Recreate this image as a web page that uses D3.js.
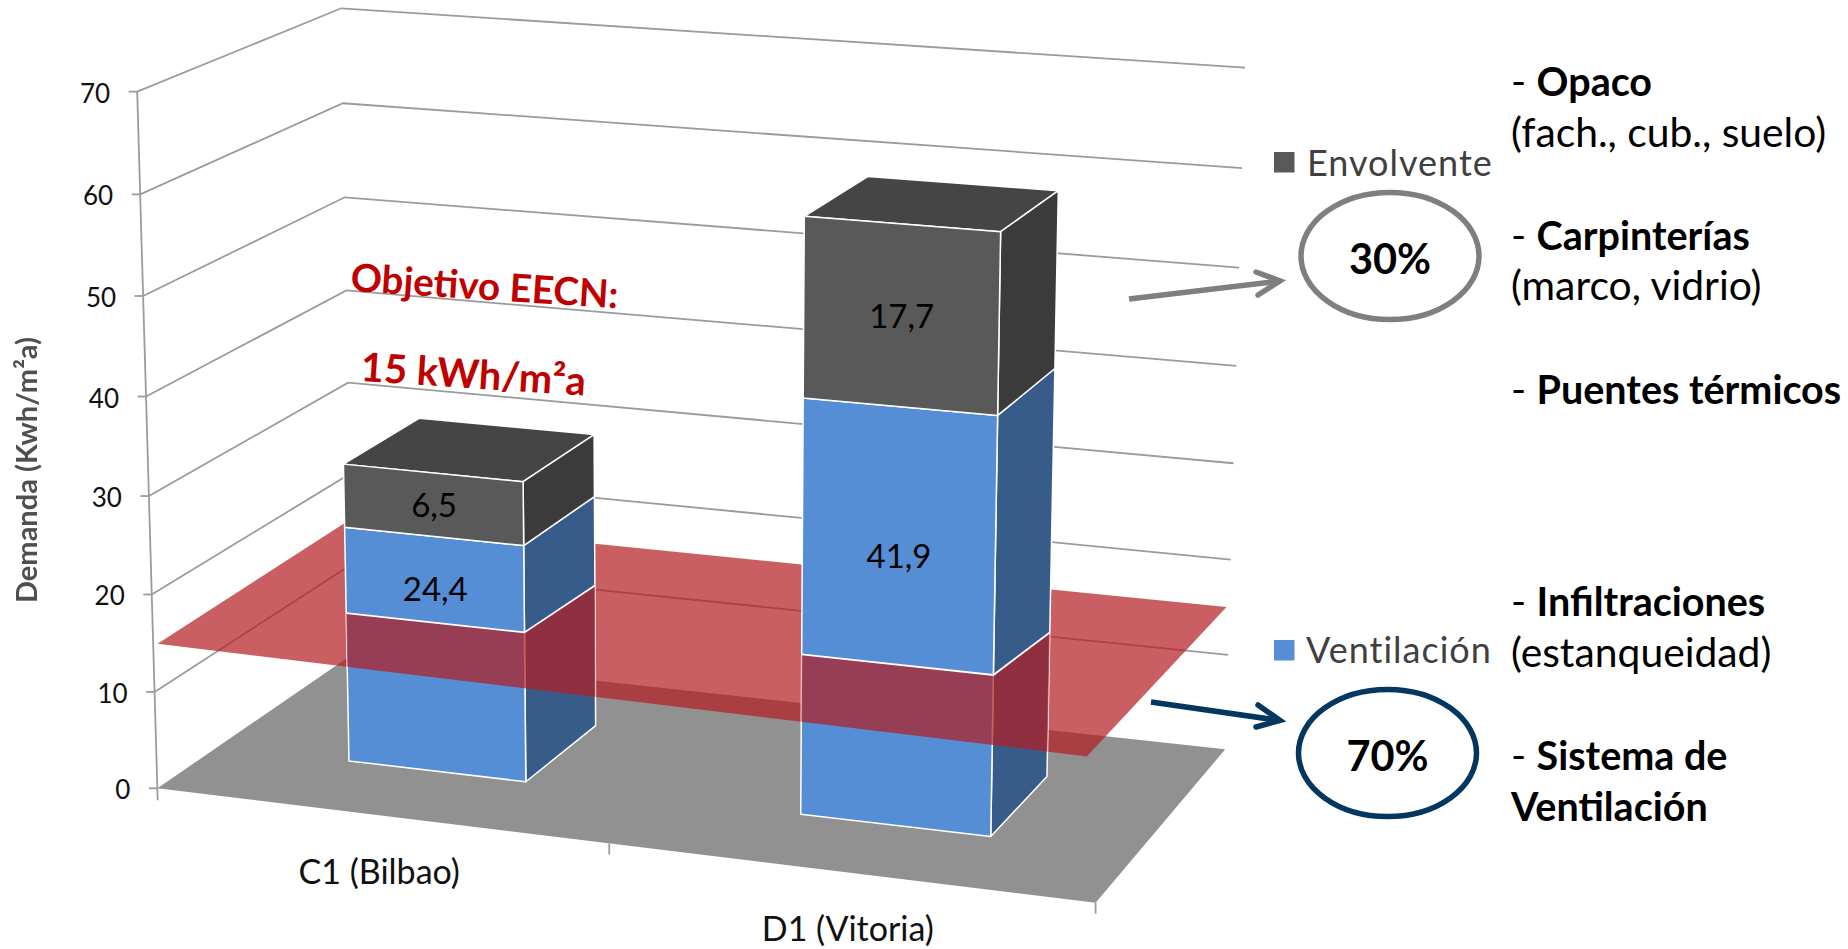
<!DOCTYPE html>
<html lang="es">
<head>
<meta charset="utf-8">
<title>Demanda</title>
<script src="https://cdn.jsdelivr.net/npm/d3@7/dist/d3.min.js"></script>
<style>
  html, body { margin: 0; padding: 0; background: #fff; }
  svg { display: block; }
  text { font-family: Lato, "Open Sans", sans-serif; }
</style>
</head>
<body>
<svg id="chart" width="1848" height="949"></svg>
<script>
// Demand per climate zone, kWh/m²a
const categories = ["C1 (Bilbao)", "D1 (Vitoria)"];
const seriesNames = ["Ventilación", "Envolvente"];
const ventilacion = [24.4, 41.9];
const envolvente = [6.5, 17.7];
const valueLabels = [["24,4", "41,9"], ["6,5", "17,7"]];
const valueTicks = [0, 10, 20, 30, 40, 50, 60, 70];
const objetivo = 15;
const shares = ["30%", "70%"];
const noteRuns = [
  [["- ", false], ["Opaco", true]],
  [["(fach., cub., suelo)", false]],
  [["- ", false], ["Carpinterías", true]],
  [["(marco, vidrio)", false]],
  [["- ", false], ["Puentes térmicos", true]],
  [["- ", false], ["Infiltraciones", true]],
  [["(estanqueidad)", false]],
  [["- ", false], ["Sistema de", true]],
  [["Ventilación", true]]
];

// Colours
const palette = {
  Ventilación: { front: "#558ed5", side: "#375c8a", top: "#4a7ab5" },
  Envolvente: { front: "#595959", side: "#3b3b3b", top: "#454545" }
};
const GRID = "#9b9b9b", FLOOR = "#919191", RED = "#c00000", NAVY = "#03375f", GREY = "#7f7f7f";

const svg = d3.select("#chart");

// Scales in plot space: u runs along the categories, v into the depth, z up the values
const uScale = d3.scaleBand().domain(categories).range([0, 1]).paddingInner(0.6).paddingOuter(0.3);
const vScale = d3.scaleLinear().domain([0, 1]).range([0.3, 0.7]);
const zScale = d3.scaleLinear().domain([0, 70]).range([0, 1]);

// Perspective camera of the 3-D plot
const cam = {
  a: 860.47, b: 226.03, c: 157.4, k: -25.2,
  d: 50.35, e: -77.92, f: 788.3, l: -700, lu: 7.2, lv: -1.68,
  g: -0.07095, h: 0.08621, m: -0.0364
};
function project(u, v, value) {
  const z = zScale(value);
  const w = cam.g * u + cam.h * v + cam.m * z + 1;
  return [
    (cam.a * u + cam.b * v + cam.c + cam.k * z) / w,
    (cam.d * u + cam.e * v + cam.f + (cam.l + cam.lu * u + cam.lv * v) * z) / w
  ];
}
const pathOf = d3.line();
const closed = pts => pathOf(pts) + "Z";

// Gridlines along the two walls
svg.append("g").selectAll("path").data(valueTicks.slice(1)).join("path")
  .attr("d", t => pathOf([project(0, 0, t), project(0, 1, t), project(1, 1, t)]))
  .attr("fill", "none").attr("stroke", GRID).attr("stroke-width", 1.8);

// Value axis with its ticks and labels
const [ax0, ay0] = project(0, 0, 0);
const [ax1, ay1] = project(0, 0, 70);
svg.append("path").attr("d", pathOf([[ax1, ay1], [ax0 + 0.3, ay0 + 12]]))
  .attr("fill", "none").attr("stroke", GRID).attr("stroke-width", 1.8);
const yAxis = svg.append("g");
valueTicks.forEach(t => {
  const [x, y] = project(0, 0, t);
  yAxis.append("path").attr("d", pathOf([[x - 8.5, y], [x, y]]))
    .attr("stroke", GRID).attr("stroke-width", 1.8).attr("fill", "none");
  yAxis.append("text").attr("x", x - 27).attr("y", y + 11)
    .attr("text-anchor", "end").attr("font-size", 26).attr("fill", "#111").text(t);
});

// Floor of the plot
svg.append("path")
  .attr("d", closed([project(0, 0, 0), project(1, 0, 0), project(1, 1, 0), project(0, 1, 0)]))
  .attr("fill", FLOOR);

// Category ticks under the front edge and their labels
[0.5, 1].forEach(u => {
  const [x, y] = project(u, 0, 0);
  svg.append("path").attr("d", pathOf([[x, y], [x, y + 11]]))
    .attr("stroke", GRID).attr("stroke-width", 1.8).attr("fill", "none");
});
categories.forEach(cat => {
  const [x, y] = project(uScale(cat) + uScale.bandwidth() / 2, 0, 0);
  svg.append("text").attr("x", x).attr("y", y + 69)
    .attr("text-anchor", "middle").attr("font-size", 34).attr("fill", "#111").text(cat);
});

// Target plane at the stated demand
const planeCorners = [[0.005, 0], [0.995, -0.05], [0.997, 1], [0, 1]];
const planePath = closed(planeCorners.map(([u, v]) => project(u, v, objetivo)));
const drawPlane = sel => sel.append("path").attr("d", planePath)
  .attr("fill", "#b31e22").attr("fill-opacity", 0.71);
drawPlane(svg);

// Stacked 3-D bars
const rows = categories.map((c, i) => ({ cat: c, Ventilación: ventilacion[i], Envolvente: envolvente[i] }));
const stacked = d3.stack().keys(seriesNames)(rows);
const bars = svg.append("g");
const uBounds = c => [uScale(c), uScale(c) + uScale.bandwidth()];
const [vFront, vBack] = vScale.range();

stacked.forEach(layer => {
  const colors = palette[layer.key];
  layer.forEach(seg => {
    const [u0, u1] = uBounds(seg.data.cat);
    const [lo, hi] = seg;
    const faces = [
      { pts: [project(u0, vFront, hi), project(u1, vFront, hi), project(u1, vBack, hi), project(u0, vBack, hi)], fill: colors.top },
      { pts: [project(u1, vFront, lo), project(u1, vBack, lo), project(u1, vBack, hi), project(u1, vFront, hi)], fill: colors.side },
      { pts: [project(u0, vFront, lo), project(u1, vFront, lo), project(u1, vFront, hi), project(u0, vFront, hi)], fill: colors.front }
    ];
    faces.forEach(f => bars.append("path").attr("d", closed(f.pts)).attr("fill", f.fill)
      .attr("stroke", "#fff").attr("stroke-width", 1.5).attr("stroke-linejoin", "round"));
  });
});

// The part of the plane that passes in front of each bar
const seamFront = [15.5, 16.3];
const seamBack = objetivo;
const defs = svg.append("defs");
categories.forEach((cat, i) => {
  const [u0, u1] = uBounds(cat);
  const s = seamFront[i];
  const front = [project(u0, vFront, 0), project(u1, vFront, 0), project(u1, vFront, s), project(u0, vFront, s)];
  const side = [project(u1, vFront, 0), project(u1, vBack, 0), project(u1, vBack, seamBack), project(u1, vFront, s)];
  const cp = defs.append("clipPath").attr("id", "cut" + i);
  cp.append("path").attr("d", closed(front) + closed(side));
  drawPlane(svg).attr("clip-path", `url(#cut${i})`);
  svg.append("path")
    .attr("d", pathOf([project(u0, vFront, s), project(u1, vFront, s), project(u1, vBack, seamBack)]))
    .attr("fill", "none").attr("stroke", "#fff").attr("stroke-width", 1.8);
});

// Value labels on the front faces; the lower ones sit on the part clear of the plane
const labelLevels = [[19, 27.2], [27.65, 50.75]];
stacked.forEach((layer, si) => {
  layer.forEach((seg, ci) => {
    const [u0, u1] = uBounds(seg.data.cat);
    const [x, y] = project((u0 + u1) / 2, vFront, labelLevels[si][ci]);
    svg.append("text").attr("x", x + 1).attr("y", y + 12)
      .attr("text-anchor", "middle").attr("font-size", 33).attr("fill", "#000")
      .text(valueLabels[si][ci]);
  });
});

// Value-axis title
const soft = defs.append("filter").attr("id", "soft");
soft.append("feGaussianBlur").attr("stdDeviation", 0.6);
svg.append("text").attr("transform", "translate(37,470) rotate(-90)")
  .attr("text-anchor", "middle").attr("font-size", 29).attr("font-weight", 700)
  .attr("fill", "#505050").attr("filter", "url(#soft)").text("Demanda (Kwh/m²a)");

// Target annotation
const target = svg.append("g").attr("fill", RED).attr("font-weight", 700);
target.append("text").attr("transform", "translate(350,291) rotate(3.7)").attr("font-size", 38.6).text("Objetivo EECN:");
target.append("text").attr("transform", "translate(360,381) rotate(3.7)").attr("font-size", 40).text("15 kWh/m²a");

// Legend
const legendRows = [
  { name: "Envolvente", box: [1274, 152], base: 176, tx: 1307 },
  { name: "Ventilación", box: [1274, 640], base: 663, tx: 1306 }
];
legendRows.forEach(d => {
  svg.append("rect").attr("x", d.box[0]).attr("y", d.box[1]).attr("width", 20.5).attr("height", 20.5)
    .attr("fill", palette[d.name].front);
  svg.append("text").attr("x", d.tx).attr("y", d.base).attr("font-size", 36).attr("letter-spacing", 1)
    .attr("fill", "#404040").text(d.name);
});

// Share callouts: ellipse, percentage and arrow
const callouts = [
  { label: shares[0], c: [1390, 256], color: GREY, tail: [1129, 299], tip: [1280, 281], barbs: [[1256, 272], [1258, 295]] },
  { label: shares[1], c: [1387.5, 753], color: NAVY, tail: [1151, 702], tip: [1280, 720.5], barbs: [[1258, 705], [1256, 727]] }
];
callouts.forEach(d => {
  svg.append("ellipse").attr("cx", d.c[0]).attr("cy", d.c[1]).attr("rx", 89).attr("ry", 63.5)
    .attr("fill", "none").attr("stroke", d.color).attr("stroke-width", 5.5);
  svg.append("text").attr("x", d.c[0]).attr("y", d.c[1] + 18)
    .attr("text-anchor", "middle").attr("font-size", 41.5).attr("font-weight", 700).attr("fill", "#000").text(d.label);
  svg.append("path").attr("d", pathOf([d.tail, d.tip])).attr("fill", "none")
    .attr("stroke", d.color).attr("stroke-width", 5.5);
  svg.append("path").attr("d", pathOf([d.barbs[0], d.tip, d.barbs[1]])).attr("fill", "none")
    .attr("stroke", d.color).attr("stroke-width", 5.5).attr("stroke-linecap", "round").attr("stroke-linejoin", "miter");
});

// Measures listed on the right
const noteBaselines = [96, 147, 250, 300, 404, 616, 667, 770, 821];
noteRuns.forEach((runs, i) => {
  const t = svg.append("text").attr("x", 1511).attr("y", noteBaselines[i]).attr("fill", "#000");
  runs.forEach(([str, bold]) => t.append("tspan").attr("font-weight", bold ? 700 : 400)
    .attr("font-size", bold ? 39.5 : 40.8).text(str));
});
</script>
</body>
</html>
